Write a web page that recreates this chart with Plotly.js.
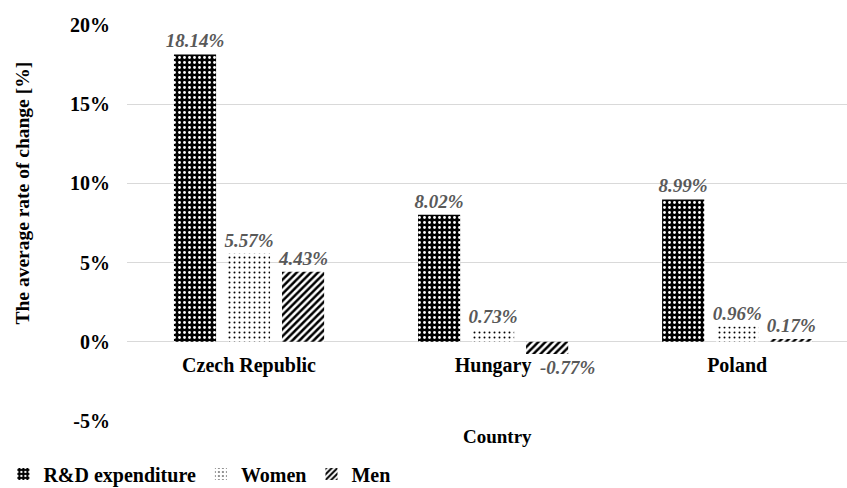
<!DOCTYPE html>
<html><head><meta charset="utf-8">
<script src="https://cdn.plot.ly/plotly-3.0.1.min.js"></script>
<style>html,body{margin:0;padding:0;background:#fff;overflow:hidden}</style>
</head><body>
<div id="chart" style="width:847px;height:500px"></div>
<script>
const countries = ["Czech Republic", "Hungary", "Poland"];
const rdExpenditure = [18.14, 8.02, 8.99];
const women = [5.57, 0.73, 0.96];
const men = [4.43, -0.77, 0.17];
const yTickVals = [-5, 0, 5, 10, 15, 20];
const yTickText = ["-5%", "0%", "5%", "10%", "15%", "20%"];

const serif = "'Times New Roman', 'Liberation Serif', Times, serif";
const labelFont = {family: serif, size: 19, color: "#595959", style: "italic", weight: "bold"};
const boldFont = {family: serif, size: 20, color: "#000", weight: "bold"};
const titleFont = {family: serif, size: 19.5, color: "#000", weight: "bold"};

function fmt(v){ return v.toFixed(2) + "%"; }
function labels(arr){ return arr.map(v => v >= 0 ? fmt(v) : ""); }

const common = {
  type: "bar", x: countries, textposition: "outside", cliponaxis: false,
  constraintext: "none", textfont: labelFont, hoverinfo: "skip"
};

const traces = [
  Object.assign({}, common, {
    name: "R&D expenditure", y: rdExpenditure, text: labels(rdExpenditure),
    marker: {color: "#000", line: {width: 0},
      pattern: {shape: ".", fillmode: "replace", bgcolor: "#000", fgcolor: "#fff", size: 5, solidity: 0.25}}
  }),
  Object.assign({}, common, {
    name: "Women", y: women, text: labels(women),
    marker: {color: "#fff", line: {width: 0},
      pattern: {shape: ".", fillmode: "replace", bgcolor: "#fff", fgcolor: "#000", size: 5, solidity: 0.12}}
  }),
  Object.assign({}, common, {
    name: "Men", y: men, text: labels(men),
    marker: {color: "#fff", line: {width: 0},
      pattern: {shape: "/", fillmode: "replace", bgcolor: "#fff", fgcolor: "#000", size: 5, solidity: 0.5}}
  })
];

const annotations = [];
men.forEach((v, i) => {
  if (v < 0) annotations.push({
    x: countries[i], y: v, xref: "x", yref: "y", text: fmt(v), showarrow: false,
    xanchor: "center", yanchor: "top", xshift: 74, yshift: -1, font: labelFont
  });
});
annotations.push({
  text: "Country", xref: "paper", yref: "paper", x: 0.514, y: -0.04,
  xanchor: "center", yanchor: "middle", showarrow: false,
  font: {family: serif, size: 19, color: "#000", weight: "bold"}
});
annotations.push({
  text: "The average rate of change [%]", xref: "paper", yref: "paper",
  x: -0.145, y: 0.576, textangle: -90, xanchor: "center", yanchor: "middle", showarrow: false,
  font: titleFont
});

const layout = {
  width: 847, height: 500,
  margin: {l: 127, r: 0, t: 25, b: 79, autoexpand: false},
  paper_bgcolor: "#fff", plot_bgcolor: "#fff",
  barmode: "group", bargap: 0.336, bargroupgap: 0.22,
  font: {family: serif, color: "#000"},
  xaxis: {
    type: "category", range: [-0.5, 2.45], anchor: "free", position: 0.2,
    showgrid: false, showline: false, zeroline: false, ticks: "",
    ticklabelstandoff: 9, automargin: false,
    tickfont: boldFont
  },
  yaxis: {
    range: [-5, 20], tickvals: yTickVals, ticktext: yTickText,
    showgrid: true, gridcolor: "#d9d9d9", gridwidth: 1,
    zeroline: true, zerolinecolor: "#d9d9d9", zerolinewidth: 1,
    showline: false, ticks: "", ticklabelstandoff: 16, automargin: false,
    tickfont: boldFont
  },
  showlegend: true,
  legend: {
    orientation: "h", xref: "container", yref: "container",
    x: 0.004, xanchor: "left", y: 0.052, yanchor: "middle",
    font: boldFont, itemwidth: 30, traceorder: "normal"
  },
  annotations: annotations
};

Plotly.newPlot("chart", traces, layout, {displayModeBar: false, staticPlot: true});
</script>
</body></html>
